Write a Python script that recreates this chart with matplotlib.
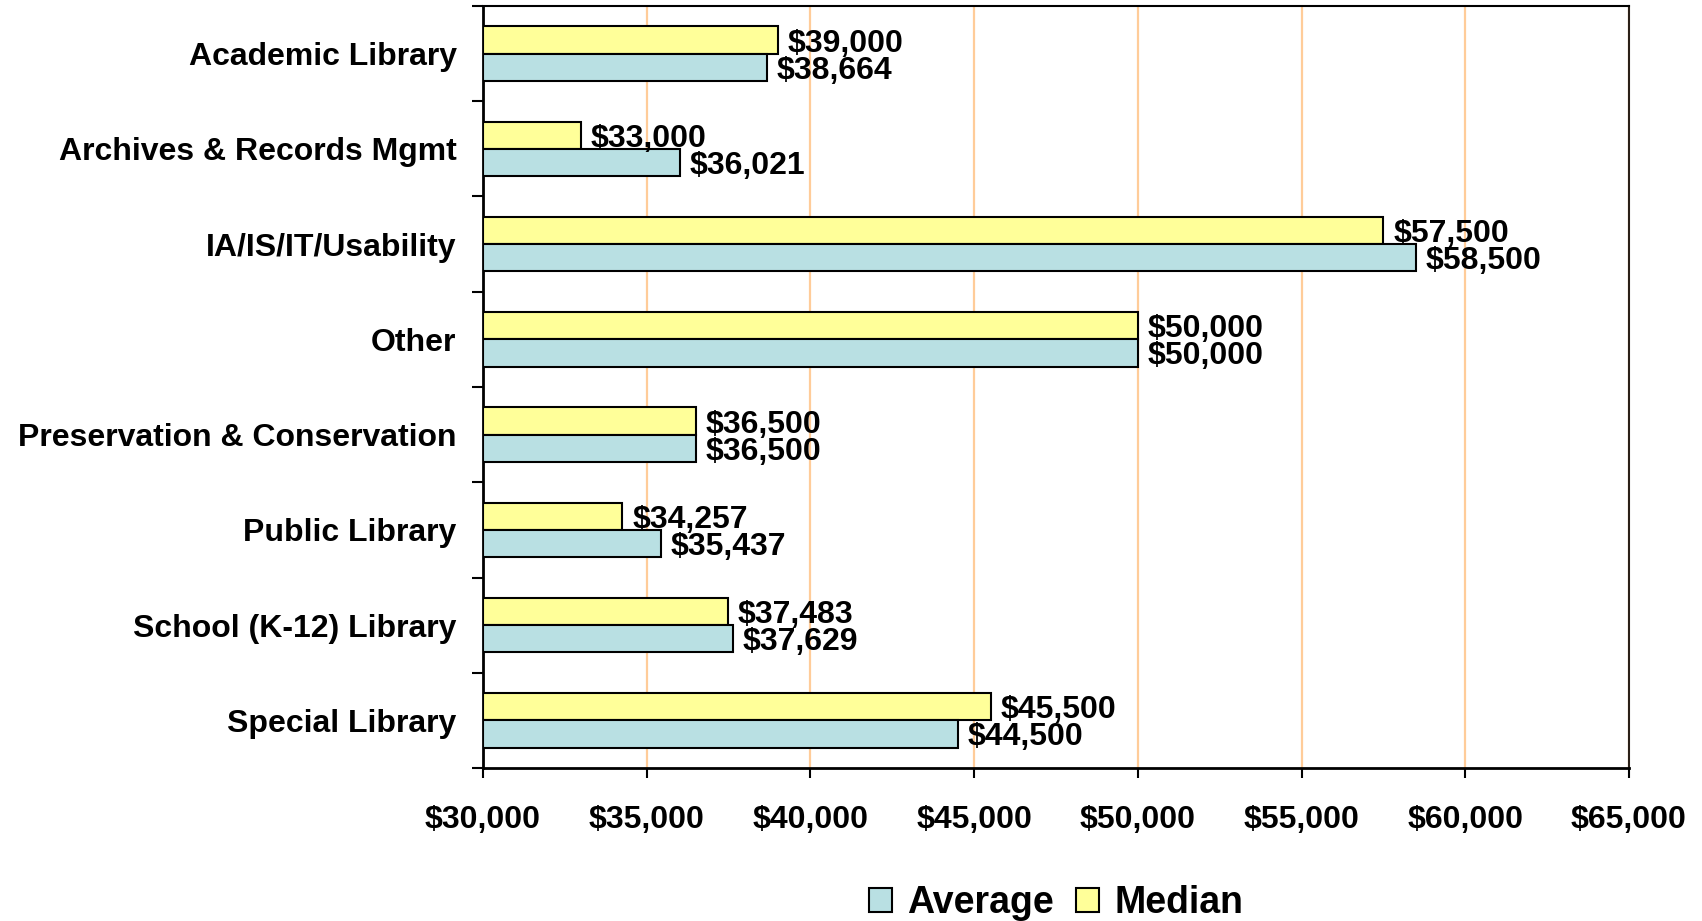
import numpy as np
import matplotlib
matplotlib.use('Agg')
import matplotlib.pyplot as plt

plt.rcParams['font.family'] = ['Liberation Sans', 'DejaVu Sans']
plt.rcParams['font.weight'] = 'bold'

categories = ['Academic Library', 'Archives & Records Mgmt', 'IA/IS/IT/Usability', 'Other',
              'Preservation & Conservation', 'Public Library', 'School (K-12) Library',
              'Special Library']
average = [38664, 36021, 58500, 50000, 36500, 35437, 37629, 44500]
median = [39000, 33000, 57500, 50000, 36500, 34257, 37483, 45500]
xticks = [30000, 35000, 40000, 45000, 50000, 55000, 60000, 65000]

fig = plt.figure(figsize=(17.02, 9.21), dpi=100)
ax = fig.add_axes([483/1702, 1 - 768/921, (1629-483)/1702, (768-6)/921])

y = np.arange(len(categories))
h = 0.285
blue = '#B9E0E3'
yellow = '#FFFF99'

b_med = ax.barh(y - h/2, np.array(median) - 30000, left=30000, height=h, color=yellow,
                edgecolor='black', linewidth=1.5, label='Median', zorder=3)
b_avg = ax.barh(y + h/2, np.array(average) - 30000, left=30000, height=h, color=blue,
                edgecolor='black', linewidth=1.5, label='Average', zorder=3)

for bars, vals in [(b_med, median), (b_avg, average)]:
    for bar, v in zip(bars, vals):
        ax.annotate(f'${v:,}', (v, bar.get_y() + bar.get_height()/2),
                    xytext=(7, -2.5), textcoords='offset points', va='center', ha='left',
                    fontsize=23, fontweight='bold', zorder=5)

ax.set_xlim(30000, 65000)
ax.set_ylim(len(categories) - 0.5, -0.5)

ax.set_xticks(xticks)
ax.set_xticklabels([f'${v:,}' for v in xticks], fontsize=23, fontweight='bold')
ax.tick_params(axis='x', direction='out', length=7.5, width=1.5, pad=19)

ax.set_yticks(y)
ax.set_yticklabels(categories, fontsize=23, fontweight='bold')
ax.set_yticks(np.arange(-0.5, len(categories)), minor=True)
ax.tick_params(axis='y', which='major', length=0, pad=19)
ax.tick_params(axis='y', which='minor', direction='out', length=8, width=1.5)

ax.grid(axis='x', color='#FFCC99', linewidth=1.6)
ax.set_axisbelow(True)

ax.spines['left'].set_linewidth(2)
ax.spines['bottom'].set_linewidth(2)
ax.spines['top'].set_linewidth(1.5)
ax.spines['right'].set_linewidth(1.5)
ax.spines['right'].set_color('#2a2018')

ax.legend(handles=[b_avg, b_med], labels=['Average', 'Median'], loc='center',
          bbox_to_anchor=(1056/1702, 18/921), bbox_transform=fig.transFigure,
          ncol=2, frameon=False, fontsize=27, handlelength=0.62, handleheight=0.62,
          handletextpad=0.4, columnspacing=0.6, borderpad=0)

plt.savefig('out.png', dpi=100)
